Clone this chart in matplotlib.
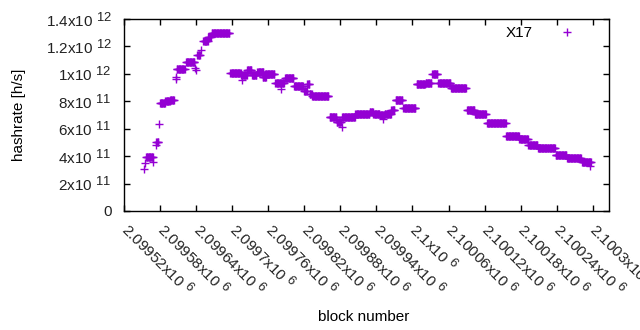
import numpy as np
import matplotlib
matplotlib.use("Agg")
import matplotlib.pyplot as plt
import matplotlib._mathtext as _mt

_mt.SHRINK_FACTOR = 0.85

plt.rcParams['font.family'] = ['Liberation Sans', 'DejaVu Sans']
plt.rcParams['mathtext.fontset'] = 'custom'
plt.rcParams['mathtext.rm'] = 'Liberation Sans'
plt.rcParams['mathtext.it'] = 'Liberation Sans:italic'

# Data: runs of consecutive blocks sharing the same hashrate estimate (units: 1e11 h/s)
seg_start = [2099553, 2099555, 2099557, 2099569, 2099573, 2099574, 2099578, 2099580, 2099589, 2099597,
             2099606, 2099607, 2099608, 2099623, 2099638, 2099639, 2099642, 2099648, 2099652, 2099660,
             2099666, 2099697, 2099715, 2099716, 2099725, 2099733, 2099742, 2099751, 2099755, 2099772,
             2099782, 2099788, 2099803, 2099820, 2099825, 2099829, 2099833, 2099862, 2099874, 2099882,
             2099883, 2099899, 2099905, 2099929, 2099935, 2099946, 2099951, 2099954, 2099965, 2099972,
             2099985, 2100007, 2100022, 2100033, 2100043, 2100064, 2100091, 2100104, 2100124, 2100156,
             2100178, 2100193, 2100209, 2100238, 2100257, 2100282, 2100296]
seg_end = [2099553, 2099555, 2099568, 2099569, 2099573, 2099577, 2099578, 2099588, 2099596, 2099603,
           2099606, 2099607, 2099621, 2099637, 2099638, 2099639, 2099646, 2099648, 2099659, 2099664,
           2099695, 2099714, 2099724, 2099716, 2099732, 2099740, 2099752, 2099756, 2099770, 2099786,
           2099782, 2099802, 2099818, 2099824, 2099828, 2099832, 2099860, 2099873, 2099881, 2099882,
           2099898, 2099904, 2099928, 2099934, 2099945, 2099953, 2099951, 2099964, 2099970, 2099983,
           2100005, 2100021, 2100031, 2100041, 2100063, 2100089, 2100103, 2100122, 2100155, 2100177,
           2100192, 2100208, 2100237, 2100256, 2100280, 2100297, 2100296]
seg_value = [3.04, 3.5, 3.92, 3.6, 4.8, 5.0, 6.32, 7.9, 8.0, 8.08,
             9.6, 9.8, 10.35, 10.87, 10.45, 10.25, 11.37, 11.74, 12.4, 12.7,
             13.0, 10.03, 9.9, 9.55, 10.26, 9.9, 10.1, 9.8, 10.0, 9.3,
             8.9, 9.67, 9.14, 8.75, 9.25, 8.5, 8.35, 6.85, 6.5, 6.1,
             6.88, 6.85, 7.07, 7.2, 7.1, 7.0, 6.7, 7.1, 7.4, 8.1,
             7.5, 9.24, 9.35, 10.0, 9.3, 9.0, 7.36, 7.05, 6.4, 5.5,
             5.24, 4.79, 4.57, 4.06, 3.83, 3.57, 3.3]

xtick_values = list(range(2099520, 2100301, 60))
ytick_values = [0, 2e11, 4e11, 6e11, 8e11, 1e12, 1.2e12, 1.4e12]

blocks = np.concatenate([np.arange(s, e + 1) for s, e in zip(seg_start, seg_end)])
rates = np.concatenate([np.full(e - s + 1, v * 1e11) for s, e, v in zip(seg_start, seg_end, seg_value)])

fig = plt.figure(figsize=(6.4, 3.3), dpi=100)
ax = fig.add_axes([124/640, 1 - 211/330, (609-124)/640, (211-19)/330])

color = '#9400d3'
ax.plot(blocks, rates, linestyle='none', marker='+', markersize=5.5, markeredgewidth=1.0,
        color=color, label='X17')

ax.set_xlim(2099520, 2100327)
ax.set_ylim(0, 1.4e12)

def xfmt(v):
    return f"{v/1e6:g}x10 $^{{6}}$"

def yfmt(v):
    if v == 0:
        return "0"
    e = int(np.floor(np.log10(v) + 1e-9))
    m = v / 10**e
    return f"{m:g}x10 $^{{{e}}}$"

FS = 11
ax.set_xticks(xtick_values)
ax.set_xticklabels([xfmt(v) for v in xtick_values], rotation=-45, ha='left', va='center',
                   rotation_mode='anchor', fontsize=FS, color='#222222')
ax.set_yticks(ytick_values)
ax.set_yticklabels([yfmt(v) for v in ytick_values], fontsize=FS, color='#222222')

ax.tick_params(direction='in', length=4, width=1, top=True, right=True)
ax.tick_params(axis='y', pad=9)
ax.tick_params(axis='x', pad=11)
for s in ax.spines.values():
    s.set_linewidth(1.0)

ax.set_ylabel('hashrate [h/s]', fontsize=FS)
ax.set_xlabel('block number', fontsize=FS)
ax.xaxis.set_label_coords((364-124)/485, -(310-211)/192)
ax.yaxis.set_label_coords(-(124-26)/485, 0.5)

leg = ax.legend(loc='upper right', markerfirst=False, frameon=False, fontsize=FS,
                handlelength=2.0, handletextpad=1.2, borderpad=0, borderaxespad=0,
                bbox_to_anchor=((582-124)/485, (211-26)/192), numpoints=1)

fig.savefig('out.png', dpi=100)
